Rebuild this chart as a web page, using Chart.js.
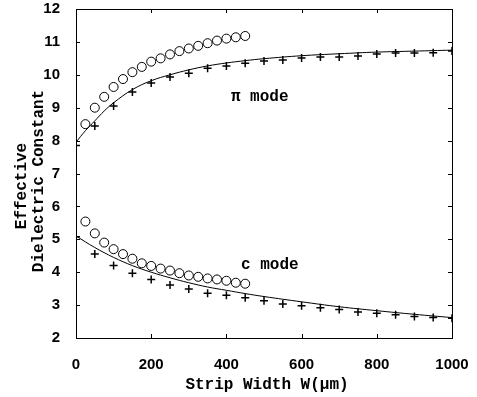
<!DOCTYPE html>
<html>
<head>
<meta charset="utf-8">
<script src="https://cdn.jsdelivr.net/npm/chart.js@4.4.0/dist/chart.umd.min.js"></script>
<style>
  html, body { margin: 0; padding: 0; background: #fff; }
  #wrap { width: 477px; height: 397px; }
</style>
</head>
<body>
<div id="wrap"><canvas id="chart"></canvas></div>
<script>
var circle_w = [25, 50, 75, 100, 125, 150, 175, 200, 225, 250, 275, 300, 325, 350, 375, 400, 425, 450];
var pi_circle = [8.5, 9.0, 9.33, 9.63, 9.87, 10.08, 10.24, 10.4, 10.5, 10.62, 10.72, 10.8, 10.88, 10.96, 11.04, 11.1, 11.14, 11.18];
var c_circle = [5.54, 5.18, 4.9, 4.7, 4.55, 4.41, 4.27, 4.19, 4.11, 4.05, 3.97, 3.9, 3.86, 3.81, 3.78, 3.74, 3.68, 3.65];

var cross_w = [0, 50, 100, 150, 200, 250, 300, 350, 400, 450, 500, 550, 600, 650, 700, 750, 800, 850, 900, 950, 1000];
var pi_cross = [7.85, 8.44, 9.05, 9.48, 9.75, 9.93, 10.05, 10.2, 10.27, 10.35, 10.42, 10.45, 10.51, 10.54, 10.54, 10.57, 10.63, 10.66, 10.66, 10.67, 10.72];
var c_cross = [5.08, 4.55, 4.2, 3.97, 3.78, 3.61, 3.49, 3.36, 3.3, 3.22, 3.13, 3.03, 2.98, 2.92, 2.87, 2.79, 2.75, 2.71, 2.65, 2.62, 2.6];

// theory curves
var pi_line_w = [0, 25, 50, 75, 100, 150, 200, 250, 300, 350, 400, 450, 500, 600, 700, 800, 900, 1000];
var pi_line = [7.95, 8.3, 8.6, 8.9, 9.15, 9.55, 9.82, 10.0, 10.15, 10.27, 10.36, 10.43, 10.49, 10.58, 10.64, 10.69, 10.72, 10.75];
var c_line_w = [0, 50, 100, 150, 200, 250, 300, 350, 400, 450, 500, 600, 700, 800, 900, 1000];
var c_line = [5.1, 4.75, 4.45, 4.2, 4.0, 3.83, 3.68, 3.55, 3.45, 3.35, 3.26, 3.1, 2.95, 2.83, 2.72, 2.62];

var x_ticks = [0, 200, 400, 600, 800, 1000];
var y_ticks = [2, 3, 4, 5, 6, 7, 8, 9, 10, 11, 12];

function pts(xs, ys) {
  var out = [];
  for (var i = 0; i < xs.length; i++) out.push({x: xs[i], y: ys[i]});
  return out;
}

var tickFont = {family: '"Liberation Sans", Arial, sans-serif', size: 15, weight: 'bold'};
var MONO = 'bold 16px "Liberation Mono", "DejaVu Sans Mono", monospace';

// frame, inward ticks, axis titles and mode labels
var framePlugin = {
  id: 'frame',
  afterDraw: function(chart) {
    var ctx = chart.ctx, a = chart.chartArea;
    var xs = chart.scales.x, ys = chart.scales.y;
    ctx.save();
    ctx.strokeStyle = '#000';
    ctx.lineWidth = 1;
    ctx.strokeRect(a.left + 0.5, a.top + 0.5, a.right - a.left, a.bottom - a.top);
    ctx.beginPath();
    x_ticks.forEach(function(v) {
      var px = Math.round(xs.getPixelForValue(v)) + 0.5;
      ctx.moveTo(px, a.bottom); ctx.lineTo(px, a.bottom - 4);
      ctx.moveTo(px, a.top); ctx.lineTo(px, a.top + 4);
    });
    y_ticks.forEach(function(v) {
      var py = Math.round(ys.getPixelForValue(v)) + 0.5;
      ctx.moveTo(a.left, py); ctx.lineTo(a.left + 4, py);
      ctx.moveTo(a.right, py); ctx.lineTo(a.right - 4, py);
    });
    ctx.stroke();

    ctx.fillStyle = '#000';
    ctx.font = MONO;
    ctx.textBaseline = 'middle';
    ctx.textAlign = 'left';
    ctx.fillText('\u03c0 mode', xs.getPixelForValue(412), ys.getPixelForValue(9.33));
    ctx.fillText('c mode', xs.getPixelForValue(439), ys.getPixelForValue(4.22));

    // x title
    ctx.textAlign = 'center';
    ctx.fillText('Strip Width W(\u03bcm)', 267, 385);
    // y title, two lines
    ctx.translate(22, 186);
    ctx.rotate(-Math.PI / 2);
    ctx.fillText('Effective', 0, 0);
    ctx.fillText('Dielectric Constant', 5, 17);
    ctx.restore();
  }
};

new Chart(document.getElementById('chart'), {
  type: 'scatter',
  data: {
    datasets: [
      {data: pts(pi_line_w, pi_line), showLine: true, borderColor: '#000', borderWidth: 1, pointRadius: 0, tension: 0.4, fill: false},
      {data: pts(c_line_w, c_line), showLine: true, borderColor: '#000', borderWidth: 1, pointRadius: 0, tension: 0.4, fill: false},
      {data: pts(circle_w, pi_circle), pointStyle: 'circle', pointRadius: 4.5, borderColor: '#000', backgroundColor: '#fff', borderWidth: 1},
      {data: pts(circle_w, c_circle), pointStyle: 'circle', pointRadius: 4.5, borderColor: '#000', backgroundColor: '#fff', borderWidth: 1},
      {data: pts(cross_w, pi_cross), pointStyle: 'cross', pointRadius: 4, borderColor: '#000', borderWidth: 1.5},
      {data: pts(cross_w, c_cross), pointStyle: 'cross', pointRadius: 4, borderColor: '#000', borderWidth: 1.5}
    ]
  },
  options: {
    responsive: true,
    maintainAspectRatio: false,
    animation: false,
    layout: {padding: {left: 0, right: 25, top: 9, bottom: 0}},
    plugins: {legend: {display: false}, tooltip: {enabled: false}},
    scales: {
      x: {
        type: 'linear', min: 0, max: 1000,
        afterBuildTicks: function(s) { s.ticks = x_ticks.map(function(v) { return {value: v}; }); },
        grid: {display: false},
        border: {display: false},
        ticks: {font: tickFont, color: '#000', padding: 10, maxRotation: 0,
                callback: function(v) { return String(v); }},
        afterFit: function(s) { s.height = 59; s.paddingLeft = 0; s.paddingRight = 0; }
      },
      y: {
        type: 'linear', min: 2, max: 12,
        afterBuildTicks: function(s) { s.ticks = y_ticks.map(function(v) { return {value: v}; }); },
        grid: {display: false},
        border: {display: false},
        ticks: {font: tickFont, color: '#000', padding: 8},
        afterFit: function(s) { s.width = 76; s.paddingTop = 0; s.paddingBottom = 0; }
      }
    }
  },
  plugins: [framePlugin]
});
</script>
</body>
</html>
